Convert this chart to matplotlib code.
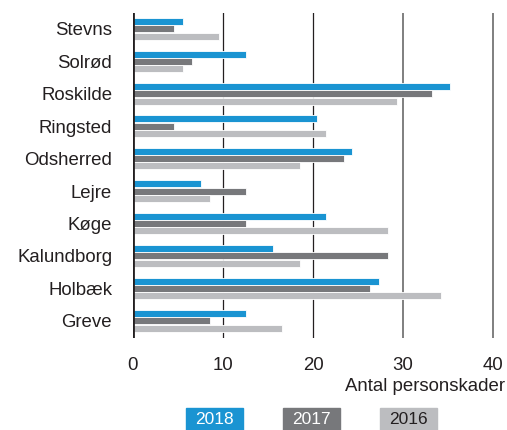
import matplotlib
matplotlib.use("Agg")
import matplotlib.pyplot as plt
from matplotlib.patches import Rectangle

categories = ["Stevns", "Solrød", "Roskilde", "Ringsted", "Odsherred",
              "Lejre", "Køge", "Kalundborg", "Holbæk", "Greve"]
v2018 = [5.6, 12.5, 35.2, 20.4, 24.3, 7.6, 21.4, 15.5, 27.3, 12.5]
v2017 = [4.6, 6.6, 33.2, 4.6, 23.4, 12.5, 12.5, 28.3, 26.3, 8.6]
v2016 = [9.5, 5.6, 29.3, 21.4, 18.5, 8.6, 28.3, 18.5, 34.2, 16.5]
years = ["2018", "2017", "2016"]
colors = ["#1a94d2", "#77787b", "#bcbdc0"]
text_colors = ["white", "white", "#231f20"]
xticks = [0, 10, 20, 30, 40]
xlabel = "Antal personskader"

plt.rcParams['font.family'] = ['Liberation Sans', 'DejaVu Sans']
W, H = 507, 430
fig = plt.figure(figsize=(W / 100, H / 100), dpi=100)
ax = fig.add_axes([133 / W, 1 - 338 / H, (494 - 133) / W, (338 - 13) / H])

n = len(categories)
ypos = [n - 1 - i for i in range(n)]
off = 0.225
h = 0.215
for vals, c, o in zip([v2018, v2017, v2016], colors, [off, 0, -off]):
    ax.barh([y + o for y in ypos], vals, height=h, color=c,
            edgecolor="white", linewidth=0.6, zorder=3)

for x in xticks[1:]:
    col = "#231f20" if x <= 20 else "#7f7f7f"
    lw = 0.9 if x <= 20 else 1.4
    ax.axvline(x, color=col, lw=lw, zorder=1)
ax.axvline(0, color="#231f20", lw=2.0, zorder=4)

ax.set_xlim(0, 40.1)
ax.set_ylim(-0.53, 9.49)
ax.set_xticks(xticks)
ax.set_xticklabels([str(x) for x in xticks])
ax.set_yticks(ypos)
ax.set_yticklabels(categories)
ax.tick_params(axis="y", length=0, pad=15, labelsize=13.4, labelcolor="#231f20")
ax.tick_params(axis="x", length=0, pad=14, labelsize=13.4, labelcolor="#231f20")
for s in ax.spines.values():
    s.set_visible(False)

fig.text(505 / W, 1 - 391 / H, xlabel, ha="right", va="baseline",
         fontsize=13.4, color="#231f20")

box_x = [186, 283, 380]
for yr, c, tc, bx in zip(years, colors, text_colors, box_x):
    fig.patches.append(Rectangle((bx / W, 0), 57 / W, 22 / H,
                                 transform=fig.transFigure, color=c))
    fig.text((bx + 28.5) / W, 11 / H, yr, ha="center", va="center",
             fontsize=12.5, color=tc)

fig.savefig("out.png", dpi=100)
